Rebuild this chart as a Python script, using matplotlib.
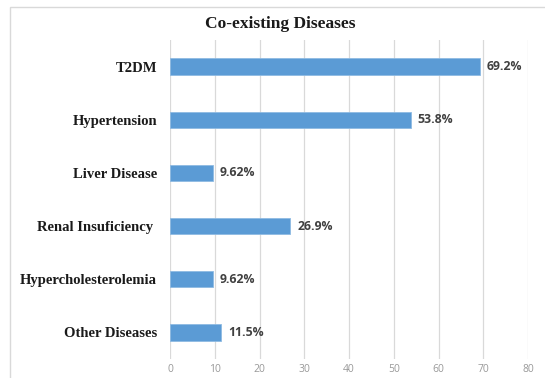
import matplotlib
matplotlib.use("Agg")
import matplotlib.pyplot as plt
from matplotlib.patches import Rectangle

categories = ["T2DM", "Hypertension", "Liver Disease", "Renal Insuficiency ",
              "Hypercholesterolemia", "Other Diseases"]
values = [69.2, 53.8, 9.62, 26.9, 9.62, 11.5]
value_labels = ["69.2%", "53.8%", "9.62%", "26.9%", "9.62%", "11.5%"]
x_ticks = [0, 10, 20, 30, 40, 50, 60, 70, 80]

W, H = 545, 378
fig = plt.figure(figsize=(W / 100, H / 100), dpi=100)
fig.patch.set_facecolor("white")

# outer chart frame
fig.add_artist(Rectangle((10 / W, -0.1), 1.2, 1.1 - 7.5 / H,
                         transform=fig.transFigure, fill=False,
                         edgecolor="#d9d9d9", linewidth=1.0))

ax = fig.add_axes([170 / W, 1 - 359 / H, (528 - 170) / W, (359 - 40) / H])

ypos = list(range(len(categories)))
ax.barh(ypos, values, height=0.31, color="#5b9bd5", edgecolor="#8fbbe3",
        linewidth=0.6, zorder=3)

for y, v, lab in zip(ypos, values, value_labels):
    ax.text(v + 1.55, y, lab, va="center", ha="left", fontsize=8.8,
            fontfamily="Open Sans", fontweight="bold", color="#404040")

ax.set_xlim(0, 80)
ax.set_ylim(len(categories) - 0.5, -0.5)
ax.set_xticks(x_ticks)
ax.set_xticklabels([str(t) for t in x_ticks], fontsize=7.5,
                   fontfamily="Open Sans", color="#999999")
ax.set_yticks(ypos)
ax.set_yticklabels(categories, fontsize=10.5, fontfamily="Liberation Serif",
                   fontweight="bold", color="#1a1a1a")
ax.tick_params(axis="both", length=0)
ax.tick_params(axis="y", pad=9.4)
ax.tick_params(axis="x", pad=3.6)
ax.grid(axis="x", color="#d9d9d9", linewidth=0.9, zorder=0)
for s in ax.spines.values():
    s.set_visible(False)

fig.text(280 / W, 1 - 28 / H, "Co-existing Diseases", ha="center", va="baseline",
         fontsize=12.5, fontfamily="Liberation Serif", fontweight="bold",
         color="#1a1a1a")

fig.savefig("out.png", dpi=100)
